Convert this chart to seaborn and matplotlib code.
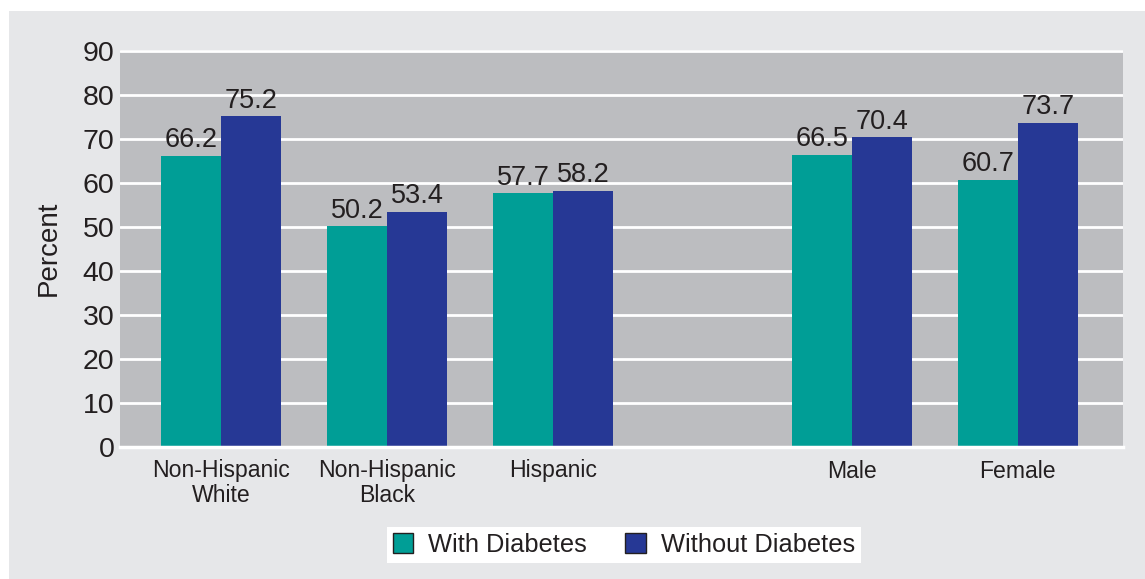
import pandas as pd
import seaborn as sns
import matplotlib.pyplot as plt
from matplotlib.patches import Rectangle, Patch

sns.set_style("white")
plt.rcParams['font.family'] = ['Liberation Sans', 'DejaVu Sans']

# data
groups = ["Non-Hispanic\nWhite", "Non-Hispanic\nBlack", "Hispanic", "Male", "Female"]
with_diabetes = [66.2, 50.2, 57.7, 66.5, 60.7]
without_diabetes = [75.2, 53.4, 58.2, 70.4, 73.7]
series = ["With Diabetes", "Without Diabetes"]
yticks = [0, 10, 20, 30, 40, 50, 60, 70, 80, 90]

# layout: gap between race/ethnicity and sex groups
xpos = [0, 1, 2, 3.8, 4.8]
colors = ["#009e96", "#263895"]

df = pd.DataFrame({
    "pos": xpos * 2,
    "value": with_diabetes + without_diabetes,
    "series": [series[0]] * 5 + [series[1]] * 5,
})

fig = plt.figure(figsize=(11.45, 5.79), dpi=100, facecolor="white")
# light grey panel behind everything
fig.patches.append(Rectangle((9 / 1145, 0), 1, 568 / 579, transform=fig.transFigure,
                             facecolor="#e6e7e9", edgecolor="none", zorder=-10))

ax = fig.add_axes([120 / 1145, 132 / 579, 1003 / 1145, 397 / 579])
ax.set_zorder(1)
ax.set_facecolor("#bcbdc0")

sns.barplot(data=df, x="pos", y="value", hue="series", palette=colors,
            native_scale=True, width=0.723, errorbar=None, saturation=1,
            linewidth=0, ax=ax)

for cont in ax.containers:
    ax.bar_label(cont, fmt="%.1f", padding=2, fontsize=19.5, color="#231f20")

ax.set_axisbelow(True)
ax.yaxis.grid(True, color="white", linewidth=2)
ax.set_ylim(0, 90.3)
ax.set_yticks(yticks)
ax.set_xlim(-0.608, 5.434)
ax.set_xticks(xpos)
ax.set_xticklabels(groups, fontsize=16.6, color="#231f20", linespacing=1.1)
ax.tick_params(axis="y", labelsize=20.5, labelcolor="#231f20", length=0, pad=4)
ax.tick_params(axis="x", length=0, pad=9)
for s in ["top", "right", "left"]:
    ax.spines[s].set_visible(False)
ax.spines["bottom"].set_color("white")
ax.spines["bottom"].set_linewidth(2.5)
ax.set_xlabel("")
ax.set_ylabel("Percent", fontsize=20, color="#231f20", labelpad=15)

ax.get_legend().remove()
handles = [Patch(facecolor=c, edgecolor="#231f20", linewidth=1) for c in colors]
leg = fig.legend(handles, series, loc="center", bbox_to_anchor=(624 / 1145, 34 / 579),
                 ncol=2, fontsize=18.3, frameon=True, fancybox=False, framealpha=1,
                 handlelength=0.8, handleheight=0.8, handletextpad=0.6,
                 columnspacing=1.5, borderpad=0.25, borderaxespad=0)
leg.get_frame().set_facecolor("white")
leg.get_frame().set_edgecolor("none")
for t in leg.get_texts():
    t.set_color("#231f20")

plt.savefig("out.png", dpi=100, facecolor="white")
